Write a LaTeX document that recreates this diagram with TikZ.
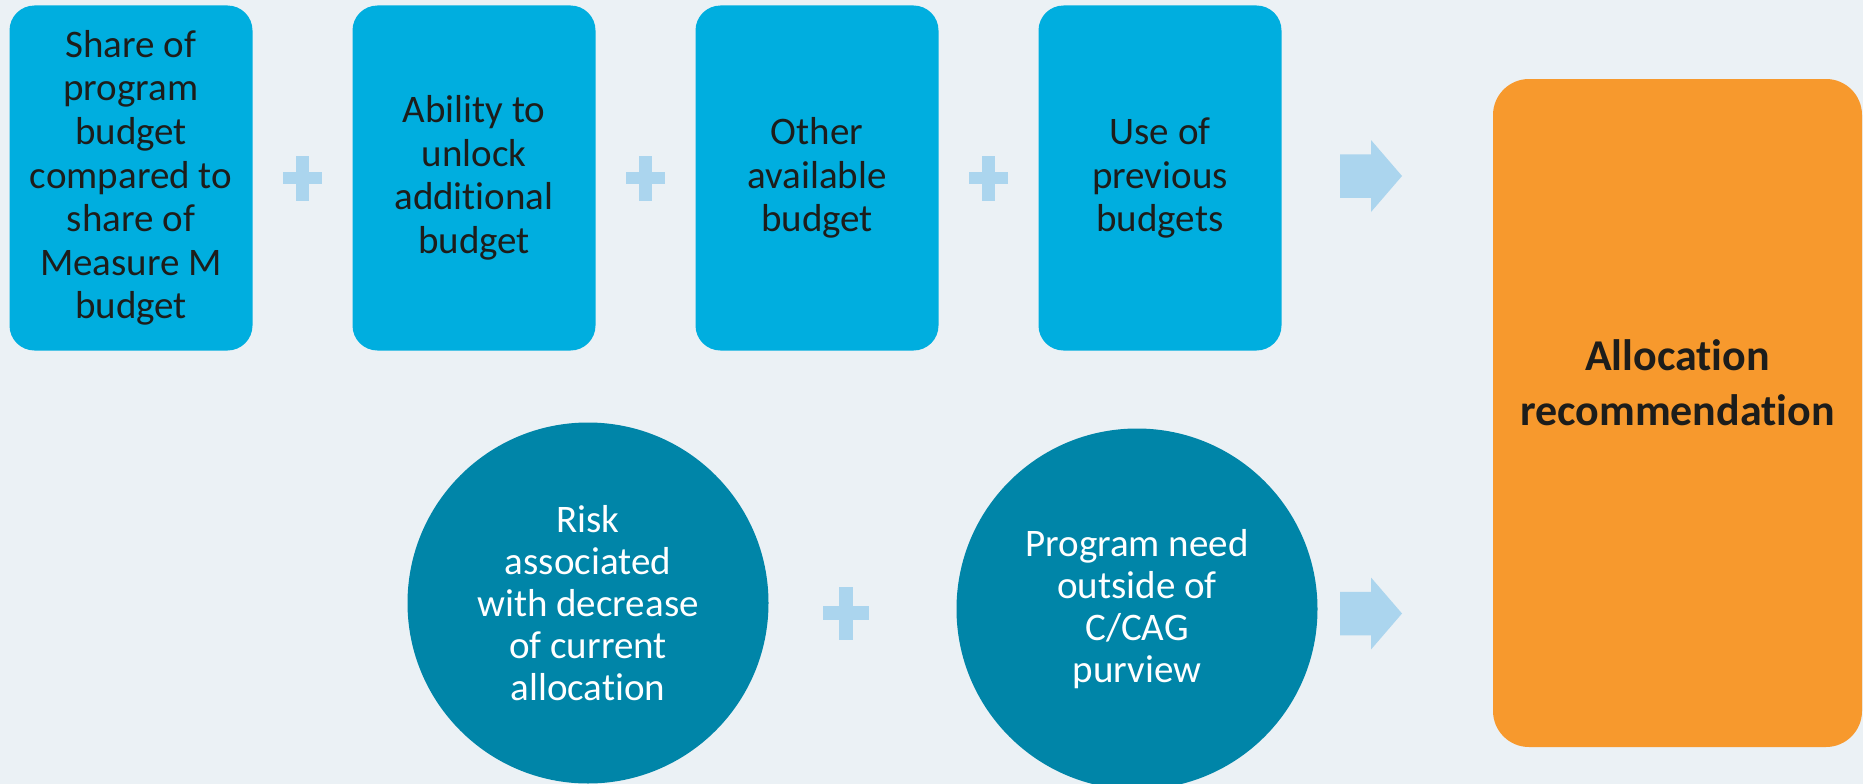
\documentclass[tikz,border=0pt]{standalone}
\usepackage{fontspec}
\setmainfont[Ligatures=NoCommon]{Carlito}
\usetikzlibrary{positioning}
\definecolor{bgcol}{HTML}{EBF1F5}
\definecolor{boxcol}{HTML}{00AEDF}
\definecolor{circcol}{HTML}{0085A8}
\definecolor{resultcol}{HTML}{F7992D}
\definecolor{markcol}{HTML}{ABD5EE}
\definecolor{inkcol}{HTML}{1D1D1B}
\tikzstyle{budgetbox}=[fill=boxcol, rounded corners=25pt, inner sep=0, outer sep=0,
                       minimum width=243pt, minimum height=345pt, align=center, text=inkcol,
                       font=\fontsize{39}{43.6}\selectfont]
\tikzstyle{riskcircle}=[circle, fill=circcol, inner sep=0, outer sep=0, minimum size=361pt,
                        align=center, text=white, font=\fontsize{39}{42}\selectfont]
\tikzstyle{resultbox}=[fill=resultcol, rounded corners=36pt, inner sep=0, outer sep=0,
                       minimum width=369pt, minimum height=668pt]
\tikzstyle{resultlabel}=[inner sep=0, align=center, text=inkcol,
                         font=\fontsize{44}{55}\selectfont\bfseries]
\tikzstyle{flowarrow}=[fill=markcol]
% plus sign: #1 centre, #2 half width, #3 half height, #4 half bar thickness
\newcommand{\plusmark}[4]{%
  \fill[markcol] (#1) +(-#2,-#4) rectangle +(#2,#4);
  \fill[markcol] (#1) +(-#4,-#3) rectangle +(#4,#3);}
% block arrow starting at #1 (middle of the tail)
\newcommand{\blockarrow}[1]{%
  \fill[flowarrow] (#1) ++(0,-21.75) -- ++(31,0) -- ++(0,-14.25) -- ++(31,36)
    -- ++(-31,36) -- ++(0,-14.25) -- ++(-31,0) -- cycle;}

\begin{document}
\begin{tikzpicture}[x=1pt, y=-1pt]
  \fill[bgcol] (0,0) rectangle (1863,784);
  \useasboundingbox (0,0) rectangle (1863,784);

  % top row
  \node[budgetbox] (share) at (131,178) {Share of\\program\\budget\\compared to\\share of\\Measure M\\budget};
  \node[budgetbox, right=100pt of share] (unlock) {Ability to\\unlock\\additional\\budget};
  \node[budgetbox, right=100pt of unlock] (other) {Other\\available\\budget};
  \node[budgetbox, right=100pt of other] (previous) {Use of\\previous\\budgets};

  \path (share) -- (unlock) coordinate[midway] (plusA);
  \path (unlock) -- (other) coordinate[midway] (plusB);
  \path (other) -- (previous) coordinate[midway] (plusC);
  \plusmark{plusA}{19.5}{22.5}{6.25}
  \plusmark{plusB}{19.5}{22.5}{6.25}
  \plusmark{plusC}{19.5}{22.5}{6.25}

  % bottom row
  \node[riskcircle] (risk) at (588,603) {Risk\\associated\\with decrease\\of current\\allocation};
  \node[riskcircle] (need) at (1137,609) {Program need\\outside of\\C/CAG\\purview};
  \coordinate (plusD) at (846,613);
  \plusmark{plusD}{23}{26.5}{7.4}

  % result
  \node[resultbox] (result) at (1677.5,413) {};
  \node[resultlabel] (resulttext) at ([yshift=30pt]result.center) {Allocation\\recommendation};

  \coordinate (arrowtop) at (1340,176);
  \coordinate (arrowbottom) at (1340,613.5);
  \blockarrow{arrowtop}
  \blockarrow{arrowbottom}
\end{tikzpicture}
\end{document}
